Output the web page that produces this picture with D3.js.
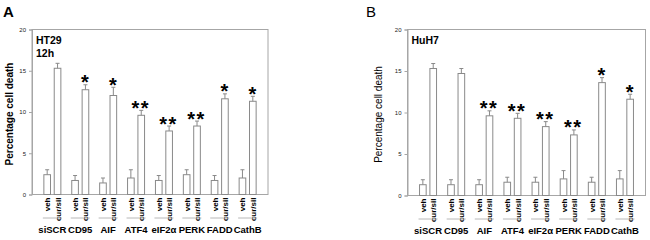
<!DOCTYPE html>
<html>
<head>
<meta charset="utf-8">
<script src="https://cdn.jsdelivr.net/npm/d3@7"></script>
<style>
  body { margin: 0; background: #fff; }
  svg { display: block; font-family: "Liberation Sans", Arial, sans-serif; }
</style>
</head>
<body>
<div id="chart"></div>
<script>
// categories
const groups = ["siSCR", "CD95", "AIF", "ATF4", "eIF2α", "PERK", "FADD", "CathB"];
const conditions = ["veh", "cur/sil"];
const yTicks = [0, 5, 10, 15, 20];

// panel A - HT29 12h
const vehA = [2.4, 1.7, 1.4, 2.0, 1.7, 2.4, 1.7, 2.0];
const vehErrA = [0.6, 0.6, 0.6, 1.0, 0.6, 0.6, 0.6, 1.0];
const curA = [15.3, 12.7, 12.0, 9.6, 7.7, 8.3, 11.6, 11.3];
const curErrA = [0.6, 0.6, 1.0, 0.6, 0.6, 0.6, 0.6, 0.6];
const starsA = ["", "*", "*", "**", "**", "**", "*", "*"];

// panel B - HuH7
const vehB = [1.3, 1.3, 1.3, 1.6, 1.6, 2.0, 1.6, 2.0];
const vehErrB = [0.6, 0.6, 0.6, 0.6, 0.6, 1.0, 0.6, 1.0];
const curB = [15.3, 14.7, 9.6, 9.3, 8.3, 7.3, 13.6, 11.6];
const curErrB = [0.6, 0.6, 0.6, 0.6, 0.6, 0.6, 0.6, 0.6];
const starsB = ["", "", "**", "**", "**", "**", "*", "*"];

const svg = d3.select("#chart").append("svg")
    .attr("width", 650)
    .attr("height", 240);

function drawPanel(p) {
    const g = svg.append("g");

    const x0 = d3.scaleBand()
        .domain(groups)
        .range([p.left, p.right])
        .paddingInner(0)
        .paddingOuter(0.23);

    const x1 = d3.scaleBand()
        .domain(conditions)
        .range([-8.5, 8.5])
        .paddingInner(0.36);

    const y = d3.scaleLinear()
        .domain([0, 20])
        .range([p.bottom, p.top]);

    const cx = gr => x0(gr) + x0.bandwidth() / 2;

    // frame
    g.append("rect")
        .attr("x", p.left).attr("y", p.top)
        .attr("width", p.right - p.left).attr("height", p.bottom - p.top)
        .attr("fill", "none").attr("stroke", "#a6a6a6").attr("stroke-width", 1);

    // y axis
    const yAxis = g.append("g")
        .attr("transform", `translate(${p.left},0)`)
        .call(d3.axisLeft(y).tickValues(yTicks).tickSize(3).tickPadding(3));
    yAxis.select(".domain").attr("stroke", "#a6a6a6");
    yAxis.selectAll(".tick line").attr("stroke", "#a6a6a6");
    yAxis.selectAll("text").attr("font-size", 6).attr("fill", "#222")
        .attr("font-family", "Liberation Sans, Arial, sans-serif");

    const rows = [];
    groups.forEach((gr, i) => {
        rows.push({group: gr, cond: "veh", v: p.veh[i], e: p.vehErr[i]});
        rows.push({group: gr, cond: "cur/sil", v: p.cur[i], e: p.curErr[i]});
    });

    // bars
    g.selectAll("rect.bar").data(rows).enter().append("rect")
        .attr("class", "bar")
        .attr("x", d => cx(d.group) + x1(d.cond))
        .attr("y", d => y(d.v))
        .attr("width", x1.bandwidth())
        .attr("height", d => y(0) - y(d.v))
        .attr("fill", "#fff")
        .attr("stroke", "#8a8a8a")
        .attr("stroke-width", 1);

    // error bars
    const eb = g.selectAll("g.err").data(rows).enter().append("g").attr("class", "err");
    eb.append("line")
        .attr("x1", d => cx(d.group) + x1(d.cond) + x1.bandwidth() / 2)
        .attr("x2", d => cx(d.group) + x1(d.cond) + x1.bandwidth() / 2)
        .attr("y1", d => y(d.v))
        .attr("y2", d => y(d.v + d.e))
        .attr("stroke", "#8a8a8a");
    eb.append("line")
        .attr("x1", d => cx(d.group) + x1(d.cond) + x1.bandwidth() / 2 - 2)
        .attr("x2", d => cx(d.group) + x1(d.cond) + x1.bandwidth() / 2 + 2)
        .attr("y1", d => y(d.v + d.e))
        .attr("y2", d => y(d.v + d.e))
        .attr("stroke", "#8a8a8a");

    // significance stars
    groups.forEach((gr, i) => {
        if (!p.stars[i]) return;
        g.append("text")
            .attr("x", cx(gr) + x1("cur/sil") + x1.bandwidth() / 2 - 0.5)
            .attr("y", y(p.cur[i] + p.curErr[i]) + 4.5)
            .attr("text-anchor", "middle")
            .attr("font-size", 20)
            .attr("font-weight", "bold")
            .attr("letter-spacing", p.stars[i].length > 1 ? 1.5 : 0)
            .text(p.stars[i]);
    });

    // rotated condition labels
    rows.forEach(d => {
        const xx = cx(d.group) + x1(d.cond) + x1.bandwidth() / 2;
        g.append("text")
            .attr("transform", `translate(${xx + 3},${p.bottom + 3}) rotate(-90)`)
            .attr("text-anchor", "end")
            .attr("font-size", 8)
            .attr("font-weight", "bold")
            .text(d.cond);
    });

    // group underline + names
    groups.forEach(gr => {
        g.append("line")
            .attr("x1", cx(gr) + x1("veh") - 1)
            .attr("x2", cx(gr) + x1("cur/sil") + x1.bandwidth() + 1)
            .attr("y1", p.bottom + 23.5).attr("y2", p.bottom + 23.5)
            .attr("stroke", "#a6a6a6").attr("stroke-width", 0.8);
        g.append("text")
            .attr("x", cx(gr))
            .attr("y", p.bottom + 38)
            .attr("text-anchor", "middle")
            .attr("font-size", 9.5)
            .attr("font-weight", "bold")
            .text(gr);
    });

    // y label
    g.append("text")
        .attr("transform", `translate(${p.ylabX},${(p.top + p.bottom) / 2 + 2}) rotate(-90)`)
        .attr("text-anchor", "middle")
        .attr("font-size", 10)
        .attr("font-weight", p.ylabBold ? "bold" : "normal")
        .text("Percentage cell death");

    // panel letter
    g.append("text")
        .attr("x", p.letterX).attr("y", 17)
        .attr("font-size", 15)
        .attr("font-weight", p.letterBold ? "bold" : "normal")
        .text(p.letter);

    // inner titles
    p.titles.forEach((t, i) => {
        g.append("text")
            .attr("x", p.left + 4)
            .attr("y", p.top + 14 + i * 13)
            .attr("font-size", 10.5)
            .attr("font-weight", "bold")
            .text(t);
    });
}

drawPanel({
    left: 32, right: 268, top: 29.5, bottom: 194.5,
    veh: vehA, vehErr: vehErrA, cur: curA, curErr: curErrA, stars: starsA,
    ylabX: 13, ylabBold: true, letter: "A", letterX: 3, letterBold: true,
    titles: ["HT29", "12h"]
});

drawPanel({
    left: 407.5, right: 645.5, top: 29.5, bottom: 195.5,
    veh: vehB, vehErr: vehErrB, cur: curB, curErr: curErrB, stars: starsB,
    ylabX: 382, ylabBold: false, letter: "B", letterX: 366, letterBold: false,
    titles: ["HuH7"]
});
</script>
</body>
</html>
